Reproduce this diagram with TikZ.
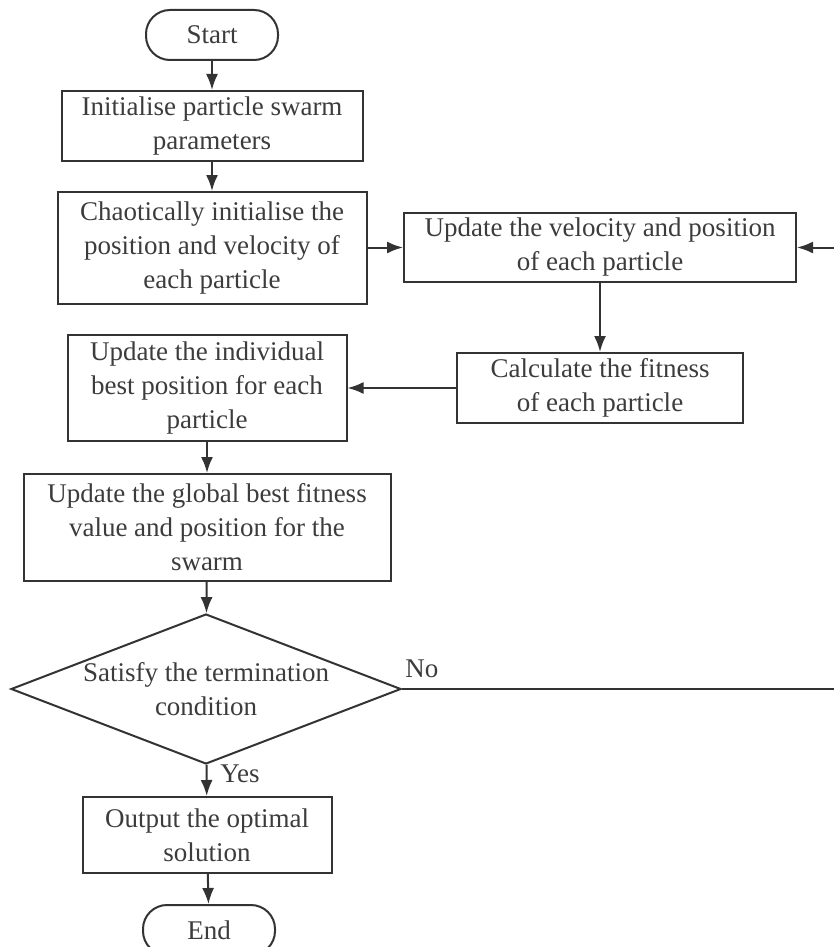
\documentclass[tikz,border=0pt]{standalone}
\usepackage{fontspec}
\setmainfont{Liberation Serif}
\usetikzlibrary{shapes.geometric,arrows.meta}
\definecolor{linegray}{HTML}{333333}
\definecolor{textgray}{HTML}{3C3C3C}

\begin{document}
\begin{tikzpicture}[x=0.5pt,y=-0.5pt,->,>={Latex[length=8pt,width=6pt]},line width=1pt,draw=linegray,
    main node/.style={rectangle,draw=linegray,align=center,inner sep=2pt,text=textgray,font=\fontsize{13.5}{17}\selectfont},
    term node/.style={main node,rounded corners=12pt,minimum width=66pt,minimum height=25pt},
    dec node/.style={main node,diamond,aspect=2.6,inner sep=0pt,minimum width=195pt,minimum height=75pt},
    label node/.style={text=textgray,font=\fontsize{13.5}{15}\selectfont}]

            \useasboundingbox (0,0) rectangle (834,947);
            \clip (0,0) rectangle (834,947);

            \node[term node] (1) at (212,35) {Start};
            \node[main node, minimum width=150.5pt, minimum height=35pt] (2) at (212,126) {Initialise particle swarm\\parameters};
            \node[main node, minimum width=154.5pt, minimum height=56pt] (3) at (212,248) {Chaotically initialise the\\position and velocity of\\each particle};

            \node[main node, minimum width=196pt, minimum height=34.5pt] (4) at (600,247.5) {Update the velocity and position\\of each particle};
            \node[main node, minimum width=143pt, minimum height=35pt] (5) at (600,388) {Calculate the fitness\\of each particle};

            \node[main node, minimum width=139.5pt, minimum height=53pt] (6) at (207,388) {Update the individual\\best position for each\\particle};
            \node[main node, minimum width=183.5pt, minimum height=53.5pt] (7) at (207,527.5) {Update the global best fitness\\value and position for the\\swarm};
            \node[dec node] (8) at (206,689) {Satisfy the termination\\condition};
            \node[main node, minimum width=124.5pt, minimum height=38pt] (9) at (207,835) {Output the optimal\\solution};
            \node[term node] (10) at (209,930) {End};

            \coordinate (11) at (846,689);

            \path[every node/.style={label node}]
                (1) edge (2)
                (2) edge (3)
                (3.east |- 4.west) edge (4.west)
                (4) edge (5)
                (5.west |- 6.east) edge (6.east)
                (6) edge (7)
                (7) edge (8)
                (8) edge node[right,pos=0.3,xshift=3pt] (12) {Yes} (9)
                (9) edge (10)
                ;
            \draw (8.east) -- node[label node,above,pos=0.045,yshift=2pt] (13) {No} (11) |- (4.east);
        \end{tikzpicture}
\end{document}
